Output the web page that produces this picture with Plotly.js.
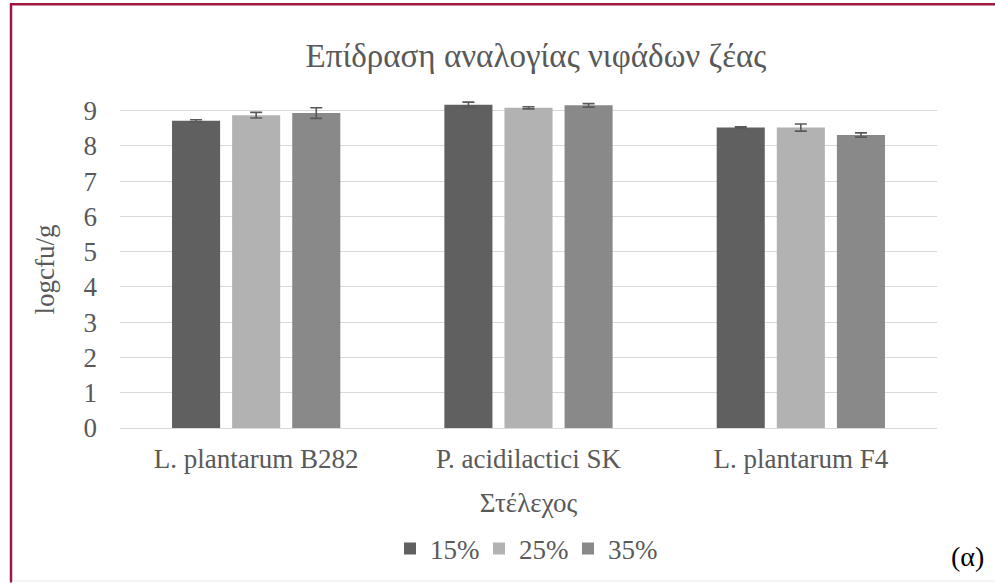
<!DOCTYPE html>
<html>
<head>
<meta charset="utf-8">
<script src="https://cdn.plot.ly/plotly-3.0.1.min.js"></script>
<style>html,body{margin:0;padding:0;background:#fff;}#chart{width:995px;height:584px;}</style>
</head>
<body>
<div id="chart"></div>
<script>
const categories = ["L. plantarum B282", "P. acidilactici SK", "L. plantarum F4"];
const seriesNames = ["15%", "25%", "35%"];
const values15 = [8.71, 9.17, 8.52];
const values25 = [8.87, 9.08, 8.52];
const values35 = [8.93, 9.15, 8.31];
const err15 = [0.03, 0.07, 0.02];
const err25 = [0.08, 0.03, 0.10];
const err35 = [0.15, 0.05, 0.06];
const yTicks = [0, 1, 2, 3, 4, 5, 6, 7, 8, 9];
const colors = ["#606060", "#b2b2b2", "#898989"];

const FONT = "Liberation Serif";
const values = [values15, values25, values35];
const errs = [err15, err25, err35];

const traces = seriesNames.map((n, i) => ({
  type: 'bar',
  name: n,
  x: categories,
  y: values[i],
  marker: {color: colors[i]},
  error_y: {type: 'data', array: errs[i], visible: true, color: '#595959', thickness: 1.6, width: 6}
}));

// plot area: x 120..937, y 93..429
const L = 120, R = 937, T = 93, B = 429, W = 995, H = 584;
const px = v => (v - L) / (R - L);
const py = v => (B - v) / (B - T);

const layout = {
  width: W, height: H,
  margin: {l: L, r: W - R, t: T, b: H - B, pad: 0},
  paper_bgcolor: '#ffffff',
  plot_bgcolor: '#ffffff',
  font: {family: FONT, color: '#595959', size: 27},
  title: {
    text: 'Επίδραση αναλογίας νιφάδων ζέας',
    font: {family: FONT, size: 33, color: '#595959'},
    x: 536 / W, xref: 'container', xanchor: 'center',
    y: 1 - 55 / H, yref: 'container', yanchor: 'middle'
  },
  barmode: 'group',
  bargap: 0.338,
  bargroupgap: 0.2,
  showlegend: true,
  legend: {
    orientation: 'h',
    x: px(390), xanchor: 'left',
    y: py(549), yanchor: 'middle',
    font: {family: FONT, size: 27, color: '#595959'},
    itemwidth: 30,
    entrywidth: 44, entrywidthmode: 'pixels',
    traceorder: 'normal'
  },
  xaxis: {
    type: 'category',
    showgrid: false,
    showline: true, linecolor: '#d9d9d9', linewidth: 1,
    ticks: '',
    ticklabelstandoff: 7,
    tickfont: {family: FONT, size: 27, color: '#595959'},
    title: {text: 'Στέλεχος', font: {family: FONT, size: 27, color: '#595959'}, standoff: 19},
    automargin: false
  },
  yaxis: {
    range: [0, 9.5],
    tickvals: yTicks,
    ticktext: yTicks.map(String),
    showgrid: true, gridcolor: '#d9d9d9', gridwidth: 1,
    zeroline: false,
    showline: false,
    ticks: '',
    ticklabelstandoff: 22,
    tickfont: {family: FONT, size: 27, color: '#595959'},
    automargin: false
  },
  shapes: [
    {type: 'line', xref: 'paper', yref: 'paper', x0: px(11), x1: px(11), y0: py(3), y1: py(584), line: {color: '#a0173f', width: 2.5}},
    {type: 'line', xref: 'paper', yref: 'paper', x0: px(10), x1: px(995), y0: py(4), y1: py(4), line: {color: '#a0173f', width: 2.5}},
    {type: 'line', xref: 'paper', yref: 'paper', x0: px(12), x1: px(995), y0: py(582.5), y1: py(582.5), line: {color: '#e8e8e8', width: 1}}
  ],
  annotations: [
    {text: 'logcfu/g', xref: 'paper', yref: 'paper', x: px(45), y: py(270), xanchor: 'center', yanchor: 'middle', textangle: -90, showarrow: false,
     font: {family: FONT, size: 27, color: '#595959'}},
    {text: '(α)', xref: 'paper', yref: 'paper', x: px(967), y: py(558), xanchor: 'center', yanchor: 'middle', showarrow: false,
     font: {family: FONT, size: 28, color: '#000000'}}
  ]
};

Plotly.newPlot('chart', traces, layout, {displayModeBar: false, staticPlot: true});
</script>
</body>
</html>
